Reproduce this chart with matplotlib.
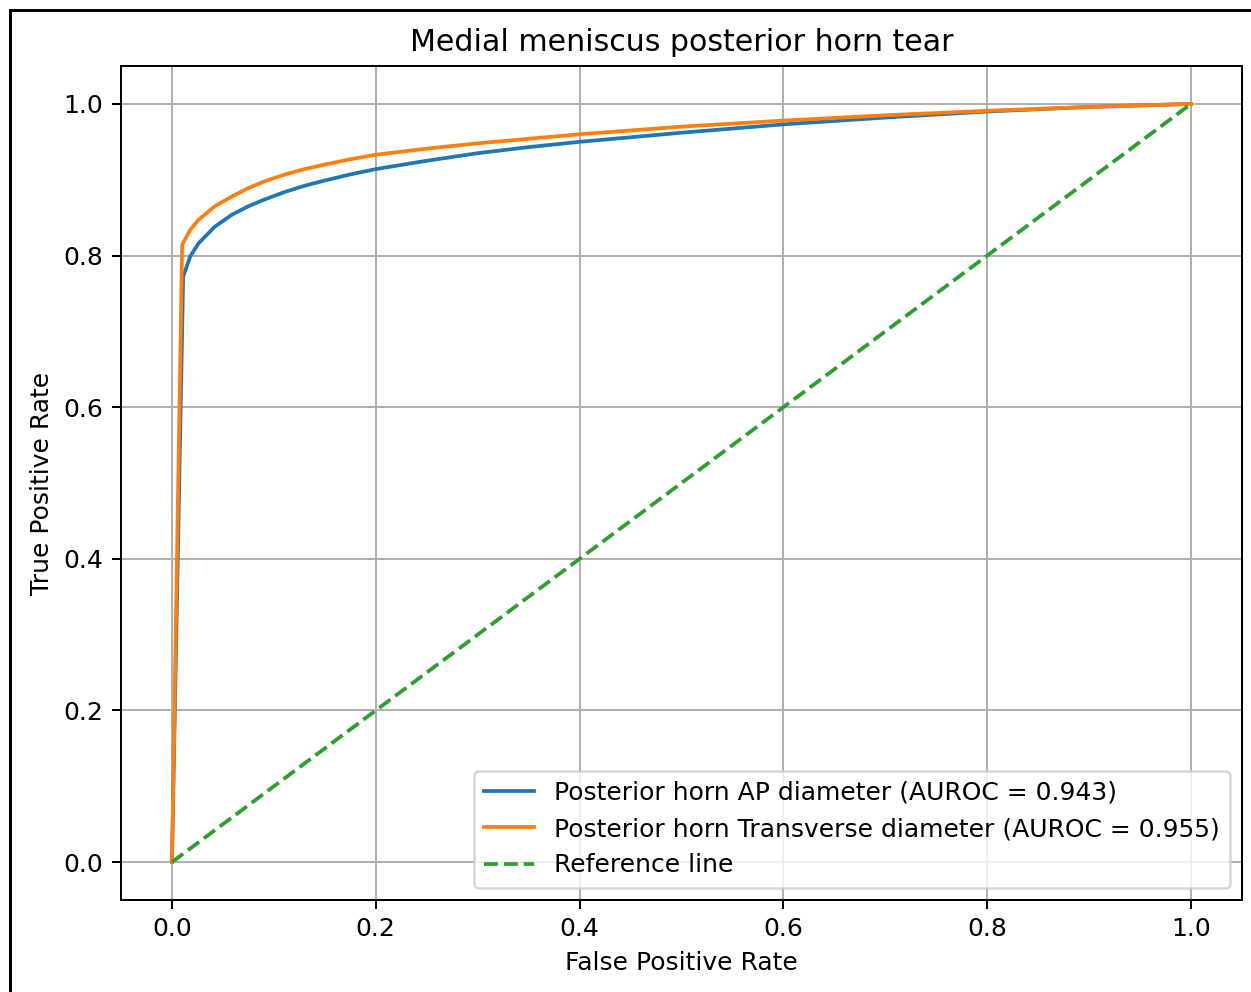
import matplotlib
matplotlib.use("Agg")
import matplotlib.pyplot as plt
from matplotlib.lines import Line2D

# ROC points
fpr_ap = [0, 0.011, 0.018, 0.026, 0.042, 0.059, 0.075, 0.091, 0.111, 0.13, 0.15,
          0.175, 0.2, 0.25, 0.3, 0.35, 0.4, 0.5, 0.6, 0.7, 0.8, 0.9, 1.0]
tpr_ap = [0, 0.772, 0.799, 0.816, 0.838, 0.854, 0.865, 0.874, 0.884, 0.892, 0.899,
          0.907, 0.914, 0.925, 0.935, 0.943, 0.950, 0.962, 0.973, 0.982, 0.990, 0.996, 1.0]

fpr_tr = [0, 0.010, 0.018, 0.026, 0.042, 0.059, 0.075, 0.091, 0.111, 0.13, 0.15,
          0.175, 0.2, 0.25, 0.3, 0.35, 0.4, 0.5, 0.6, 0.7, 0.8, 0.9, 1.0]
tpr_tr = [0, 0.814, 0.834, 0.847, 0.865, 0.878, 0.889, 0.898, 0.907, 0.914, 0.920,
          0.927, 0.933, 0.941, 0.948, 0.954, 0.960, 0.970, 0.978, 0.985, 0.991, 0.996, 1.0]

ref_x = [0, 1]
ref_y = [0, 1]

labels = [
    "Posterior horn AP diameter (AUROC = 0.943)",
    "Posterior horn Transverse diameter (AUROC = 0.955)",
    "Reference line",
]

dpi = 180
fig = plt.figure(figsize=(1251 / dpi, 992 / dpi), dpi=dpi)
ax = fig.add_axes([121 / 1251, 92 / 992, (1242 - 121) / 1251, (900 - 66) / 992])

ax.plot(fpr_ap, tpr_ap, color="#1f77b4", label=labels[0])
ax.plot(fpr_tr, tpr_tr, color="#ff7f0e", label=labels[1])
ax.plot(ref_x, ref_y, color="#2ca02c", linestyle="--", label=labels[2])

ax.set_title("Medial meniscus posterior horn tear")
ax.set_xlabel("False Positive Rate")
ax.set_ylabel("True Positive Rate")
ax.legend(loc="lower right")
ax.grid(True)

# outer frame visible in the reference (left and top edges)
fx = 10 / 1251
fy = 1 - 10 / 992
fig.add_artist(Line2D([fx, fx], [0, fy], transform=fig.transFigure, color="black", lw=1.2))
fig.add_artist(Line2D([fx, 1], [fy, fy], transform=fig.transFigure, color="black", lw=1.2))

fig.savefig("out.png", dpi=dpi)
